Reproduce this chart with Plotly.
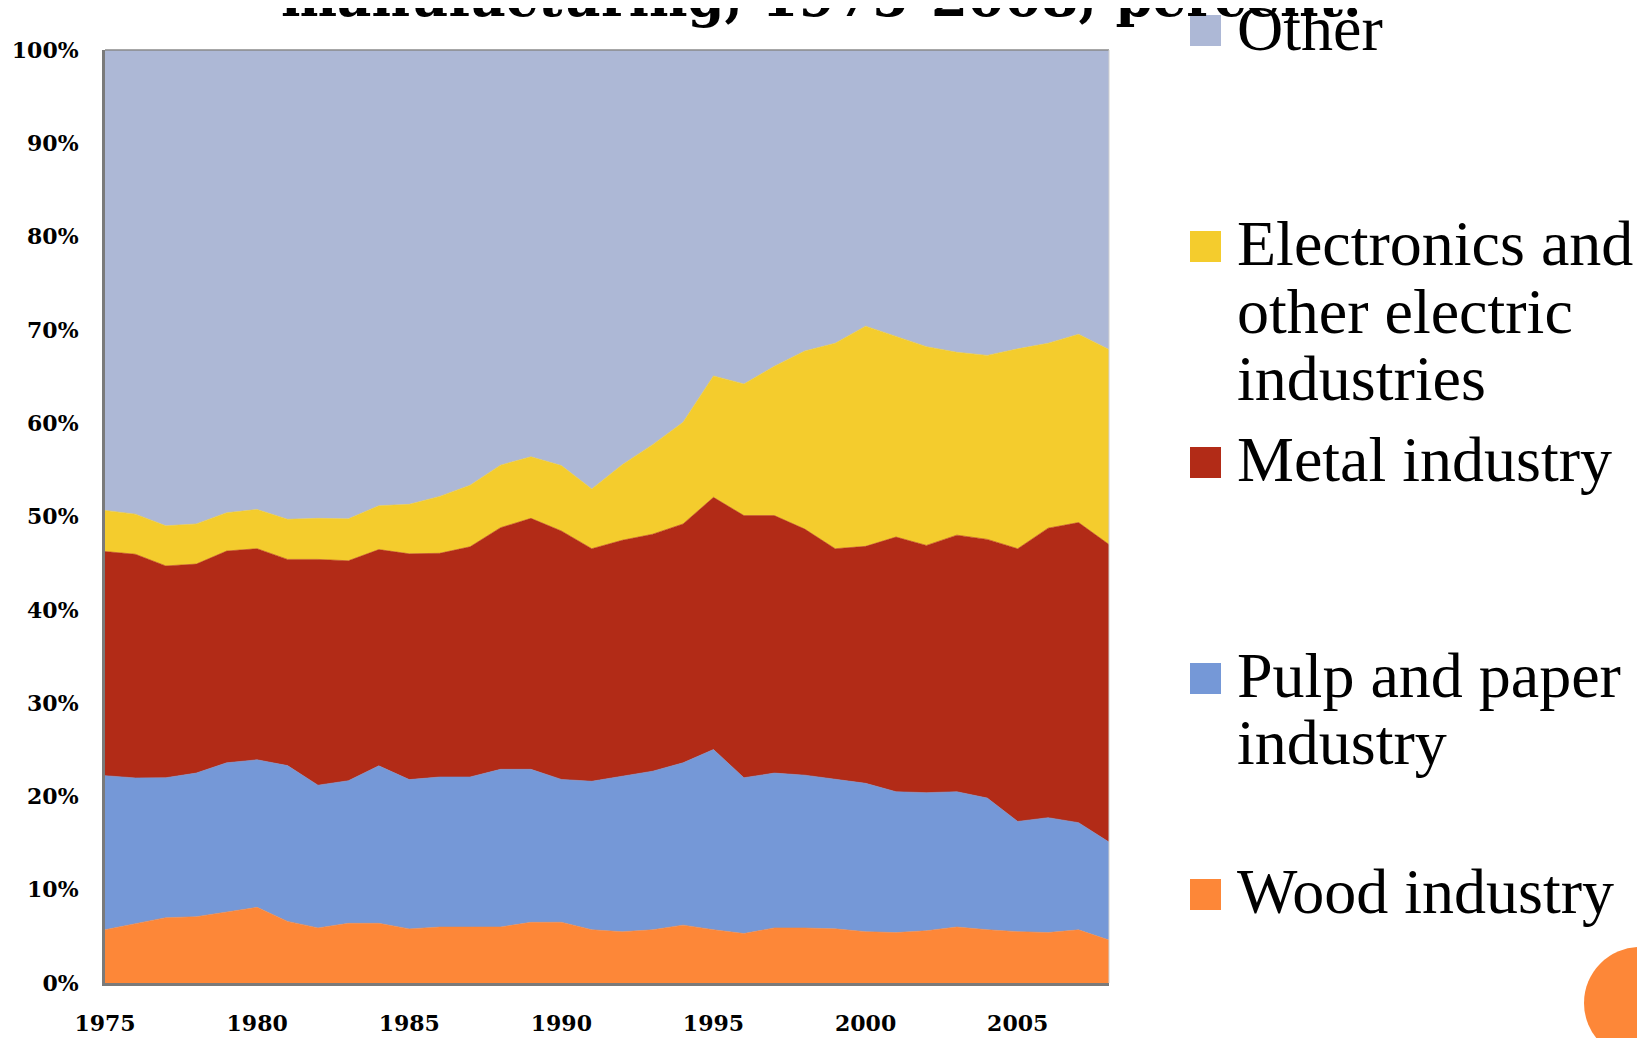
import plotly.graph_objects as go

# ---------------- data (percent of manufacturing) ----------------
years = list(range(1975, 2009))

wood = [5.7, 6.4, 7.0, 7.1, 7.6, 8.1, 6.6, 5.9, 6.4, 6.4, 5.8, 6.0, 6.0, 6.0, 6.5, 6.5, 5.7,
        5.5, 5.7, 6.2, 5.7, 5.3, 5.9, 5.9, 5.8, 5.5, 5.4, 5.6, 6.0, 5.7, 5.5, 5.4, 5.7, 4.6]

pulp = [16.5, 15.6, 15.0, 15.4, 16.0, 15.8, 16.7, 15.3, 15.3, 16.9, 16.0, 16.1, 16.1, 16.9, 16.4, 15.3, 15.9,
        16.7, 17.0, 17.4, 19.3, 16.7, 16.6, 16.4, 16.0, 15.9, 15.1, 14.8, 14.5, 14.1, 11.8, 12.3, 11.5, 10.5]

metal = [24.0, 24.0, 22.7, 22.4, 22.7, 22.6, 22.1, 24.2, 23.6, 23.2, 24.2, 24.0, 24.7, 25.9, 26.9, 26.6, 24.9,
         25.3, 25.4, 25.6, 27.0, 28.1, 27.6, 26.4, 24.7, 25.4, 27.3, 26.5, 27.5, 27.7, 29.2, 31.0, 32.2, 31.9]

electronics = [4.4, 4.3, 4.3, 4.3, 4.1, 4.2, 4.3, 4.4, 4.5, 4.7, 5.3, 6.1, 6.6, 6.7, 6.6, 7.0, 6.4,
               8.1, 9.6, 10.9, 13.0, 14.1, 16.0, 19.1, 22.0, 23.6, 21.5, 21.3, 19.6, 19.7, 21.4, 19.8, 20.2, 20.9]

other = [49.3, 49.8, 51.0, 50.8, 49.6, 49.2, 50.3, 50.2, 50.3, 48.9, 48.7, 47.9, 46.7, 44.5, 43.6, 44.5, 47.0,
         44.5, 42.3, 39.9, 34.9, 35.8, 33.9, 32.3, 31.4, 29.6, 30.7, 31.8, 32.4, 32.7, 32.0, 31.4, 30.5, 32.1]

series_names = ["Wood industry", "Pulp and paper industry", "Metal industry",
                "Electronics and other electric industries", "Other"]
series_values = [wood, pulp, metal, electronics, other]
series_colors = ["#FD8738", "#7598D7", "#B22B17", "#F4CC2D", "#ADB8D6"]

x_tick_vals = [1975, 1980, 1985, 1990, 1995, 2000, 2005]
y_tick_vals = list(range(0, 101, 10))

title_text = "manufacturing, 1975-2008, percent."

# legend layout (top to bottom): swatch box (pixel top, bottom) and text line baselines
legend_items = [
    ("Other", "#ADB8D6", (15, 46), [("Other", 50)]),
    ("Electronics", "#F4CC2D", (231, 262), [("Electronics and", 265), ("other electric", 333), ("industries", 400)]),
    ("Metal", "#B22B17", (447, 478), [("Metal industry", 481)]),
    ("Pulp", "#7598D7", (663, 694), [("Pulp and paper", 697), ("industry", 764)]),
    ("Wood", "#FD8738", (879, 910), [("Wood industry", 913)]),
]

# ---------------- geometry (page pixels; the page body adds an 8px margin) ----------------
PAGE_W, PAGE_H = 1645, 1038
OFF = 8
W, H = PAGE_W - OFF, PAGE_H - OFF
L, R, T, B = 105, 1109, 50, 983


def px(x):
    return (x - L) / (R - L)


def py(y):
    return (B - y) / (B - T)


fig = go.Figure()
for name, vals, col in zip(series_names, series_values, series_colors):
    fig.add_trace(go.Scatter(
        x=years, y=vals, name=name, mode="lines",
        stackgroup="one", groupnorm="percent",
        line=dict(width=0.6, color=col), fillcolor=col,
        showlegend=False,
    ))

tickfont = dict(family="DejaVu Serif", size=22, color="black", weight="bold")

fig.update_xaxes(
    range=[1975, 2008], tickvals=x_tick_vals, ticktext=[str(v) for v in x_tick_vals],
    showgrid=False, zeroline=False, showline=True, linecolor="#7a7a7a", linewidth=3,
    ticks="", tickfont=tickfont, ticklabelstandoff=19, automargin=False,
)
fig.update_yaxes(
    range=[0, 100], tickvals=y_tick_vals, ticktext=[f"{v}%" for v in y_tick_vals],
    showgrid=False, zeroline=False, showline=True, linecolor="#7a7a7a", linewidth=3,
    ticks="", tickfont=tickfont, ticklabelstandoff=19, automargin=False,
)

shapes = []
# thin top and right border of plot area
shapes.append(dict(type="line", xref="paper", yref="paper", x0=0, x1=1, y0=1, y1=1,
                   line=dict(color="#8a8a8a", width=1.5)))
shapes.append(dict(type="line", xref="paper", yref="paper", x0=1, x1=1, y0=0, y1=1,
                   line=dict(color="#d0d0d0", width=1)))

annotations = []
LEG_FONT = 64
for _, col, (s_top, s_bot), lines in legend_items:
    shapes.append(dict(type="rect", xref="paper", yref="paper",
                       x0=px(1190), x1=px(1221), y0=py(s_bot), y1=py(s_top),
                       fillcolor=col, line=dict(width=0)))
    for txt, base in lines:
        annotations.append(dict(
            text=txt, xref="paper", yref="paper", x=px(1235), y=py(base - 0.3375 * LEG_FONT),
            xanchor="left", yanchor="middle", showarrow=False,
            font=dict(family="Liberation Serif", size=LEG_FONT, color="black"),
        ))

# title (mostly cut off by the top of the page)
annotations.append(dict(
    text=title_text, xref="paper", yref="paper", x=px(821), y=py(30),
    xanchor="center", yanchor="bottom", showarrow=False,
    font=dict(family="DejaVu Serif", size=53, color="black", weight="bold"),
))

# decorative orange circle at bottom-right corner
shapes.append(dict(type="circle", xref="paper", yref="paper",
                   x0=px(1584), x1=px(1696), y0=py(1059), y1=py(947),
                   fillcolor="#FD8738", line=dict(width=0)))

fig.update_layout(
    width=W, height=H,
    margin=dict(l=L - OFF, r=PAGE_W - R, t=T - OFF, b=PAGE_H - B, autoexpand=False),
    paper_bgcolor="white", plot_bgcolor="white",
    shapes=shapes, annotations=annotations,
    showlegend=False,
)

fig.write_html("out.html")
